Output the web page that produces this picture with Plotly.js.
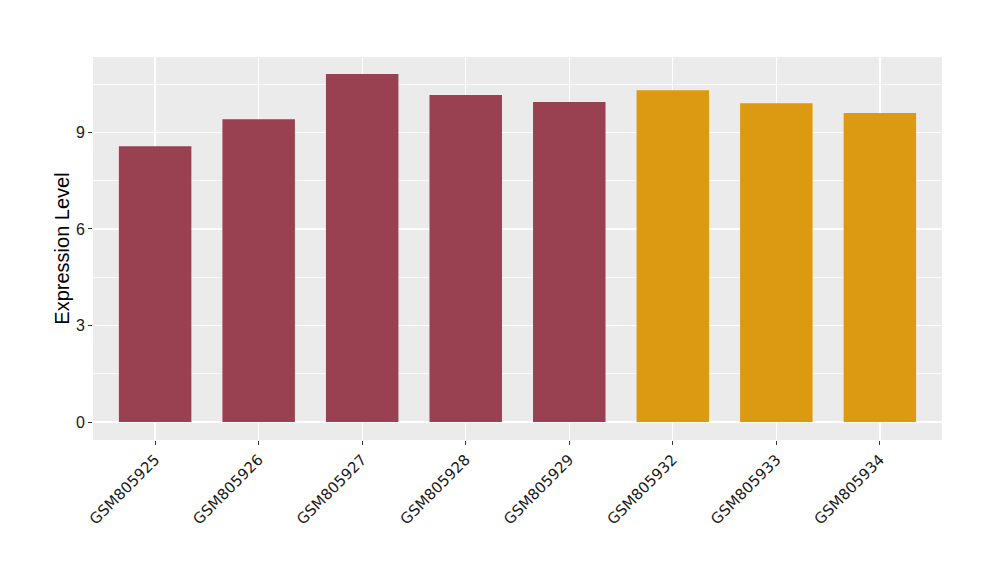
<!DOCTYPE html>
<html>
<head>
<meta charset="utf-8">
<script src="https://cdn.plot.ly/plotly-3.0.1.min.js"></script>
<style>html,body{margin:0;padding:0;background:#fff;}#chart{width:1000px;height:580px;}</style>
</head>
<body>
<div id="chart"></div>
<script>
const samples = ["GSM805925","GSM805926","GSM805927","GSM805928","GSM805929","GSM805932","GSM805933","GSM805934"];
const values = [8.57, 9.41, 10.81, 10.16, 9.94, 10.31, 9.90, 9.60];
const groups = ["A","A","A","A","A","B","B","B"];
const groupColors = {A: "#994150", B: "#DC9A13"};
const yTicks = [0, 3, 6, 9];
const yMinor = [1.5, 4.5, 7.5, 10.5];

const trace = {
  type: "bar",
  x: samples,
  y: values,
  marker: {color: groups.map(g => groupColors[g]), line: {width: 0}},
  width: 0.7,
  hoverinfo: "x+y"
};

const layout = {
  width: 1000, height: 580,
  margin: {l: 93, r: 58, t: 57, b: 140},
  paper_bgcolor: "#ffffff",
  plot_bgcolor: "#EBEBEB",
  showlegend: false,
  font: {family: "Liberation Sans, Arial, sans-serif", color: "#1a1a1a"},
  xaxis: {
    type: "category",
    range: [-0.6, 7.6],
    tickangle: -45,
    tickfont: {size: 15, color: "#1a1a1a", family: "DejaVu Sans, sans-serif"},
    ticks: "outside", ticklen: 4, tickcolor: "#333333", tickwidth: 1,
    showgrid: true, gridcolor: "#ffffff", gridwidth: 1.4,
    zeroline: false, showline: false
  },
  yaxis: {
    range: [-0.556, 11.34],
    tickvals: yTicks,
    ticktext: yTicks.map(String),
    tickfont: {size: 16, color: "#1a1a1a"},
    ticks: "outside", ticklen: 4, tickcolor: "#333333", tickwidth: 1,
    ticklabelstandoff: 0,
    showgrid: true, gridcolor: "#ffffff", gridwidth: 1.4,
    minor: {tickvals: yMinor, showgrid: true, gridcolor: "#ffffff", gridwidth: 0.7, ticks: ""},
    zeroline: false, showline: false,
    title: {text: "Expression Level", font: {size: 20, color: "#000000"}, standoff: 0}
  }
};

Plotly.newPlot("chart", [trace], layout, {displayModeBar: false, staticPlot: true});
</script>
</body>
</html>
